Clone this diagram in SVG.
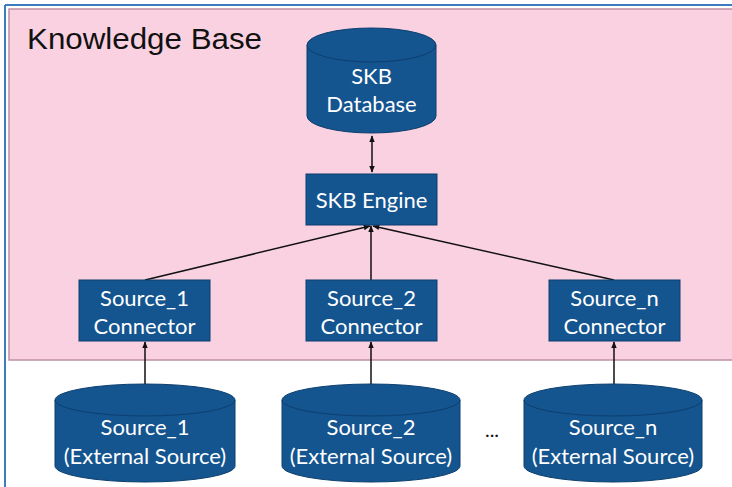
<svg xmlns="http://www.w3.org/2000/svg" width="732" height="487" viewBox="0 0 732 487">
<defs>
<style>
.blk{fill:#14548f;stroke:#0d3f6e;stroke-width:1}
.lbl{font-family:Lato,"Noto Sans",sans-serif;font-size:22px;fill:#ffffff;text-anchor:middle}
.ln{stroke:#111;stroke-width:1.5;fill:none}
</style>
<marker id="ah" viewBox="0 0 10 10" refX="9" refY="5" markerWidth="7" markerHeight="7" orient="auto-start-reverse" markerUnits="userSpaceOnUse">
<path d="M0,1 L10,5 L0,9 z" fill="#111"/>
</marker>
</defs>
<rect x="0" y="0" width="732" height="487" fill="#ffffff"/>
<rect x="9" y="9" width="730" height="351" fill="#f9d1e1" stroke="#c08ea4" stroke-width="1.5"/>
<line x1="5" y1="5" x2="732" y2="5" stroke="#3a7cc0" stroke-width="2"/>
<line x1="5" y1="5" x2="5" y2="487" stroke="#3a7cc0" stroke-width="2"/>
<text x="27" y="49" font-family="Liberation Sans,Arial,sans-serif" font-size="29" fill="#111" textLength="235" lengthAdjust="spacingAndGlyphs">Knowledge Base</text>

<g id="connectors">
<line class="ln" x1="372" y1="136" x2="372" y2="172" marker-start="url(#ah)" marker-end="url(#ah)"/>
<line class="ln" x1="145" y1="280" x2="370" y2="226" marker-end="url(#ah)"/>
<line class="ln" x1="371" y1="280" x2="371" y2="226" marker-end="url(#ah)"/>
<line class="ln" x1="614" y1="280" x2="373" y2="226" marker-end="url(#ah)"/>
<line class="ln" x1="145" y1="384" x2="145" y2="342" marker-end="url(#ah)"/>
<line class="ln" x1="371" y1="384" x2="371" y2="342" marker-end="url(#ah)"/>
<line class="ln" x1="614" y1="384" x2="614" y2="342" marker-end="url(#ah)"/>
</g>

<g id="skb-database">
<path class="blk" d="M307,45 L307,116 A64.5,17 0 0 0 436,116 L436,45"/>
<ellipse class="blk" cx="371.5" cy="45" rx="64.5" ry="17"/>
<text class="lbl" x="371.5" y="84">SKB</text>
<text class="lbl" x="371.5" y="112">Database</text>
</g>

<g id="skb-engine">
<rect class="blk" x="306" y="174" width="131" height="51"/>
<text class="lbl" x="371.5" y="208">SKB Engine</text>
</g>

<g id="source1-connector">
<rect class="blk" x="79" y="280" width="131" height="61"/>
<text class="lbl" x="144.5" y="306">Source_1</text>
<text class="lbl" x="144.5" y="334">Connector</text>
</g>
<g id="source2-connector">
<rect class="blk" x="306" y="280" width="131" height="61"/>
<text class="lbl" x="371.5" y="306">Source_2</text>
<text class="lbl" x="371.5" y="334">Connector</text>
</g>
<g id="sourcen-connector">
<rect class="blk" x="549" y="280" width="131" height="61"/>
<text class="lbl" x="614.5" y="306">Source_n</text>
<text class="lbl" x="614.5" y="334">Connector</text>
</g>

<g id="source1">
<path class="blk" d="M55,400 L55,466 A90,16 0 0 0 235,466 L235,400"/>
<ellipse class="blk" cx="145" cy="400" rx="90" ry="16"/>
<text class="lbl" x="145" y="435">Source_1</text>
<text class="lbl" x="145" y="464">(External Source)</text>
</g>
<g id="source2">
<path class="blk" d="M282,400 L282,466 A89,16 0 0 0 460,466 L460,400"/>
<ellipse class="blk" cx="371" cy="400" rx="89" ry="16"/>
<text class="lbl" x="371" y="435">Source_2</text>
<text class="lbl" x="371" y="464">(External Source)</text>
</g>
<g id="sourcen">
<path class="blk" d="M524,400 L524,466 A89,16 0 0 0 702,466 L702,400"/>
<ellipse class="blk" cx="613" cy="400" rx="89" ry="16"/>
<text class="lbl" x="613" y="435">Source_n</text>
<text class="lbl" x="613" y="464">(External Source)</text>
</g>
<text x="492" y="437" font-family="Lato,sans-serif" font-size="20" fill="#111" text-anchor="middle">...</text>
</svg>
